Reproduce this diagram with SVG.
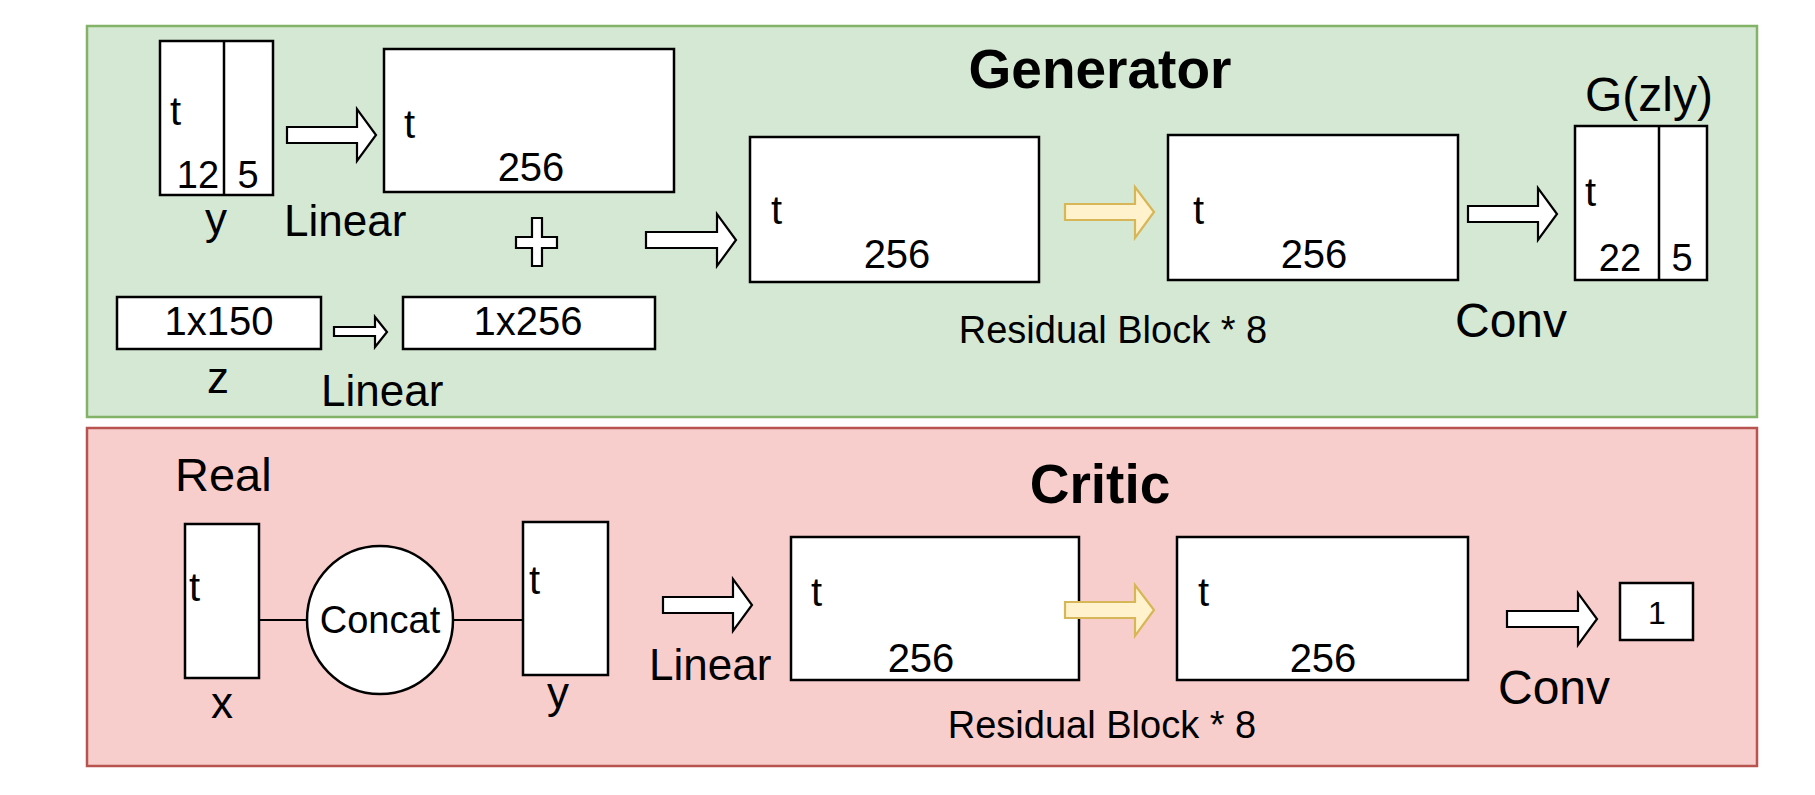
<svg xmlns="http://www.w3.org/2000/svg" width="1815" height="795" viewBox="0 0 1815 795">
  <style>
    text { font-family: "Liberation Sans", Arial, Helvetica, sans-serif; fill: #000; }
    .box { fill: #fff; stroke: #000; stroke-width: 2.5; }
    .div { stroke: #000; stroke-width: 2.5; fill: none; }
    .arrow { fill: #fff; stroke: #000; stroke-width: 2.2; stroke-linejoin: miter; }
    .yarrow { fill: #fff2cc; stroke: #d6b656; stroke-width: 2.2; }
    .link { stroke: #000; stroke-width: 2; fill: none; }
    .title { font-weight: bold; font-size: 55px; text-anchor: middle; }
    .lbl { font-size: 44px; }
    .t { font-size: 40px; }
    .num { font-size: 40px; text-anchor: middle; }
    .small { font-size: 38px; }
    .res { font-size: 38px; text-anchor: middle; }
    .mid { text-anchor: middle; }
  </style>

  <!-- panels -->
  <rect id="generator-panel" x="87" y="26" width="1670" height="391" fill="#d5e8d4" stroke="#82b366" stroke-width="2.5"/>
  <rect id="critic-panel" x="87" y="428" width="1670" height="338" fill="#f8cecc" stroke="#b85450" stroke-width="2.5"/>

  <text class="title" x="1100" y="88">Generator</text>
  <text class="title" x="1100" y="503">Critic</text>

  <!-- Generator nodes -->
  <g id="g-y">
    <rect class="box" x="160" y="41" width="113" height="154"/>
    <line class="div" x1="224" y1="41" x2="224" y2="195"/>
    <text class="t" x="170" y="125">t</text>
    <text class="num small" x="198" y="188">12</text>
    <text class="num small" x="248" y="188">5</text>
    <text class="lbl mid" x="216" y="234">y</text>
  </g>

  <g id="g-linear-y">
    <rect class="box" x="384" y="49" width="290" height="143"/>
    <text class="t" x="404" y="138">t</text>
    <text class="num" x="531" y="181">256</text>
    <text class="lbl" x="284" y="236">Linear</text>
  </g>

  <g id="g-plus">
    <polygon class="arrow" points="532,218 542,218 542,237 557,237 557,248 542,248 542,266 532,266 532,248 516,248 516,237 532,237"/>
  </g>

  <g id="g-z">
    <rect class="box" x="117" y="297" width="204" height="52"/>
    <text class="num" x="219" y="335">1x150</text>
    <text class="lbl mid" x="218" y="393">z</text>
  </g>

  <g id="g-linear-z">
    <rect class="box" x="403" y="297" width="252" height="52"/>
    <text class="num" x="528" y="335">1x256</text>
    <text class="lbl" x="321" y="406">Linear</text>
  </g>

  <g id="g-res1">
    <rect class="box" x="750" y="137" width="289" height="145"/>
    <text class="t" x="771" y="224">t</text>
    <text class="num" x="897" y="268">256</text>
  </g>

  <g id="g-res2">
    <rect class="box" x="1168" y="135" width="290" height="145"/>
    <text class="t" x="1193" y="224">t</text>
    <text class="num" x="1314" y="268">256</text>
  </g>
  <text class="res" x="1113" y="343">Residual Block * 8</text>
  <text class="lbl" x="1455" y="337" style="font-size:48px">Conv</text>

  <g id="g-out">
    <rect class="box" x="1575" y="126" width="132" height="154"/>
    <line class="div" x1="1659" y1="126" x2="1659" y2="280"/>
    <text class="t" x="1585" y="206">t</text>
    <text class="num small" x="1620" y="271">22</text>
    <text class="num small" x="1682" y="271">5</text>
    <text class="lbl mid" x="1649" y="111" style="font-size:48px">G(zly)</text>
  </g>

  <!-- Critic nodes -->
  <text class="lbl" x="175" y="491" style="font-size:47px">Real</text>

  <g id="c-x">
    <rect class="box" x="185" y="524" width="74" height="154"/>
    <text class="t" x="189" y="601">t</text>
    <text class="lbl mid" x="222" y="718">x</text>
  </g>

  <g id="c-concat">
    <ellipse class="box" cx="380" cy="620" rx="73" ry="74"/>
    <text class="mid" x="380" y="633" style="font-size:38px">Concat</text>
  </g>

  <g id="c-y">
    <rect class="box" x="523" y="522" width="85" height="153"/>
    <text class="t" x="529" y="594">t</text>
    <text class="lbl mid" x="558" y="708">y</text>
  </g>

  <g id="c-res1">
    <rect class="box" x="791" y="537" width="288" height="143"/>
    <text class="t" x="811" y="606">t</text>
    <text class="num" x="921" y="672">256</text>
    <text class="lbl" x="649" y="680">Linear</text>
  </g>

  <g id="c-res2">
    <rect class="box" x="1177" y="537" width="291" height="143"/>
    <text class="t" x="1198" y="606">t</text>
    <text class="num" x="1323" y="672">256</text>
  </g>
  <text class="res" x="1102" y="738">Residual Block * 8</text>
  <text class="lbl" x="1498" y="704" style="font-size:48px">Conv</text>

  <g id="c-out">
    <rect class="box" x="1620" y="583" width="73" height="57"/>
    <text class="num" x="1657" y="624" style="font-size:32px">1</text>
  </g>

  <!-- connectors -->
  <g id="connectors">
    <polygon class="arrow" points="287,127 357,127 357,109 376,135 357,161 357,143 287,143"/>
    <polygon class="arrow" points="334,327 375,327 375,317 387,332 375,347 375,336 334,336"/>
    <polygon class="arrow" points="646,232 717,232 717,214 736,240 717,266 717,248 646,248"/>
    <polygon class="yarrow" points="1065,204 1135,204 1135,187 1154,212 1135,238 1135,220 1065,220"/>
    <polygon class="arrow" points="1468,206 1538,206 1538,188 1557,214 1538,240 1538,222 1468,222"/>

    <line class="link" x1="259" y1="620" x2="307" y2="620"/>
    <line class="link" x1="453" y1="620" x2="523" y2="620"/>
    <polygon class="arrow" points="663,597 733,597 733,579 752,605 733,631 733,613 663,613"/>
    <polygon class="yarrow" points="1065,602 1135,602 1135,585 1154,610 1135,636 1135,618 1065,618"/>
    <polygon class="arrow" points="1507,611 1578,611 1578,593 1597,619 1578,645 1578,627 1507,627"/>
  </g>
</svg>
